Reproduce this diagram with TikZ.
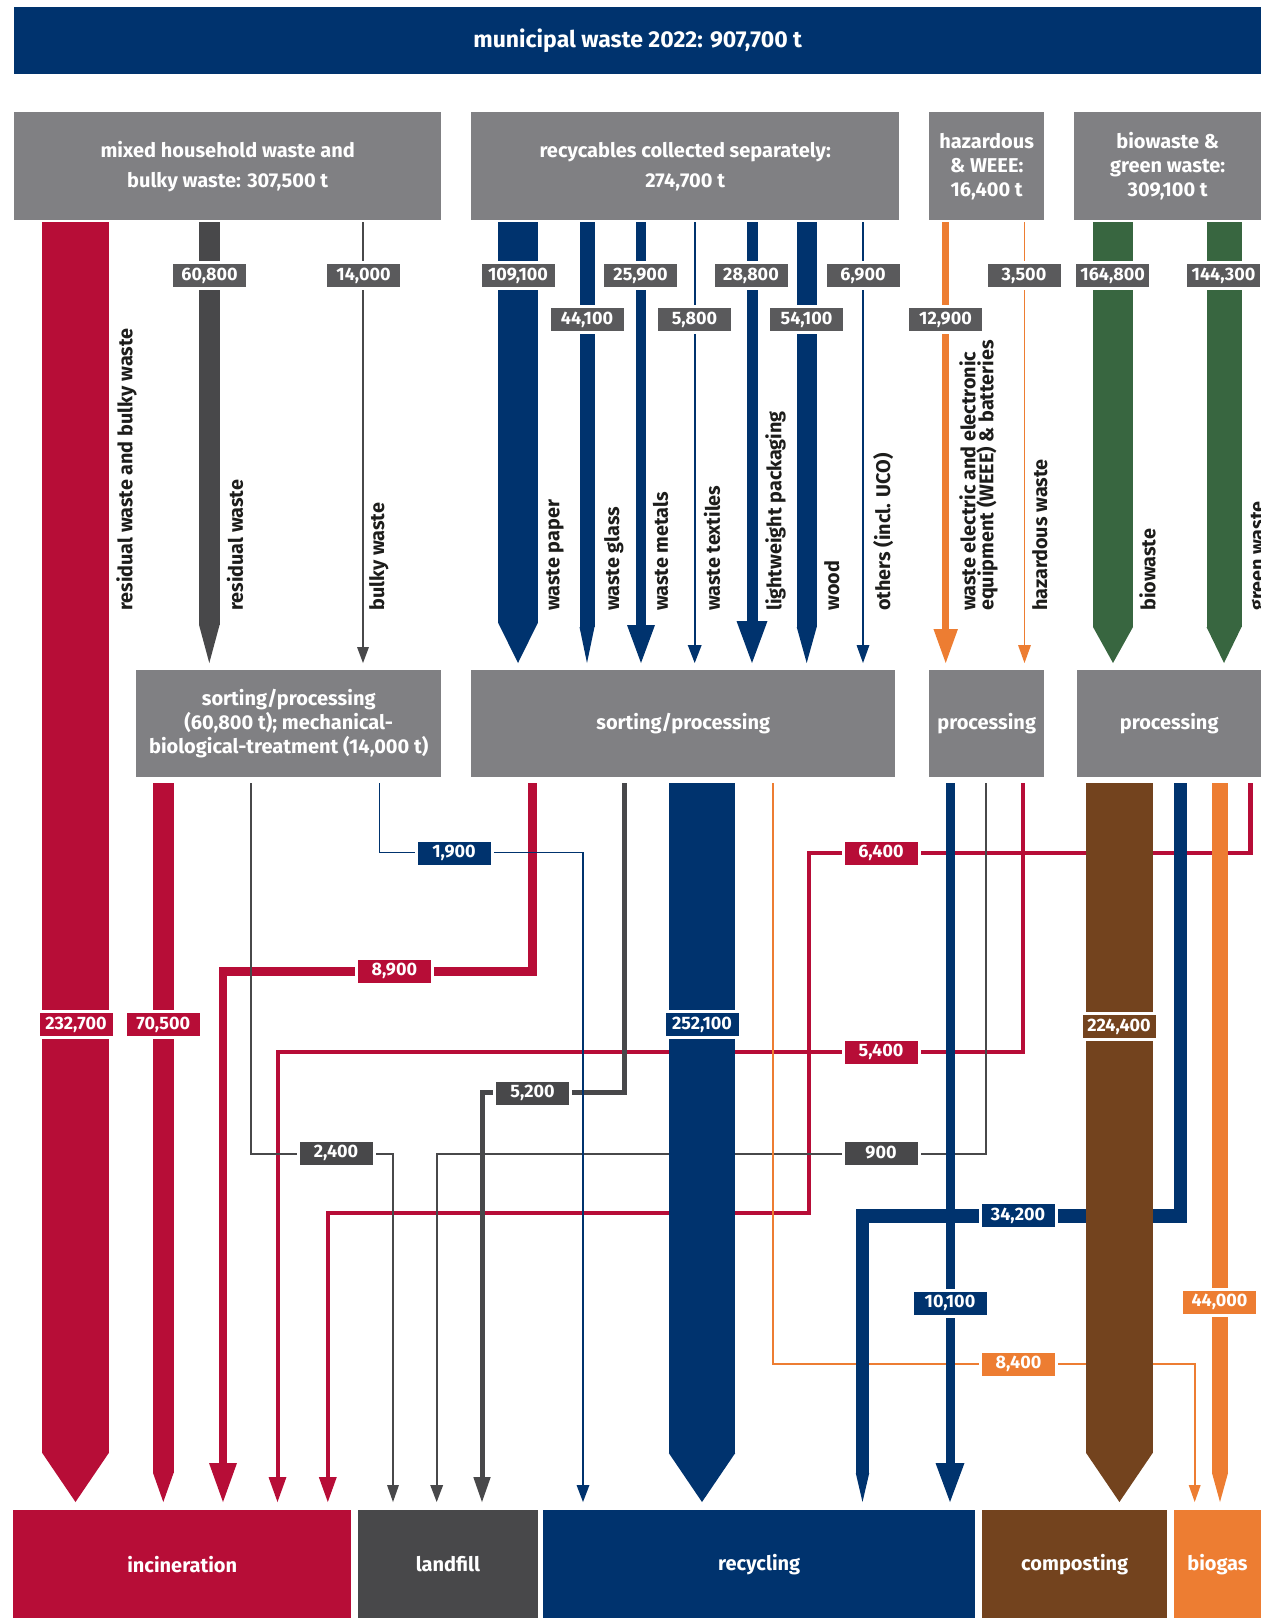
\documentclass[tikz,border=0pt]{standalone}
\usepackage{fontspec}
\setmainfont{Fira Sans}
\usetikzlibrary{arrows.meta}

\definecolor{navy}{RGB}{0,51,110}
\definecolor{wred}{RGB}{183,13,55}
\definecolor{boxgrey}{RGB}{128,128,131}
\definecolor{dgrey}{RGB}{72,72,74}
\definecolor{lgrey}{RGB}{90,90,92}
\definecolor{worange}{RGB}{237,125,50}
\definecolor{wgreen}{RGB}{56,102,64}
\definecolor{wbrown}{RGB}{115,67,30}
\definecolor{txt}{RGB}{29,29,27}

\newcommand{\boxfont}{\bfseries\fontsize{20}{24}\selectfont}
\newcommand{\lblfont}{\bfseries\fontsize{18}{20}\selectfont}
\newcommand{\vertfont}{\bfseries\fontsize{19.8}{18}\selectfont}

\tikzset{
  box/.style={fill=#1, text=white, font=\boxfont, align=center, inner sep=0pt, anchor=north west},
  box/.default=boxgrey,
  lbl/.style={fill=#1, text=white, font=\lblfont, minimum width=73pt, minimum height=23pt,
    inner sep=0pt, preaction={draw=white, line width=6pt}},
  lbl/.default=lgrey,
  vlbl/.style={rotate=90, anchor=north west, font=\vertfont, text=txt, inner sep=0pt, align=left},
  flow/.style n args={4}{draw=#1, line width=#2pt, -{Triangle[length=#3pt, width=#4pt, line width=0pt]}},
}

\begin{document}
\begin{tikzpicture}[x=1pt, y=-1pt]
    \useasboundingbox (0,0) rectangle (1261,1618);
    \clip (0,0) rectangle (1261,1618);

    % header and collection boxes
    \node[box=navy, minimum width=1247pt, minimum height=67pt, font=\bfseries\fontsize{23}{26}\selectfont] (total) at (14,7) {municipal waste 2022: 907,700 t};
    \node[box, minimum width=427pt, minimum height=108pt, font=\bfseries\fontsize{20}{30}\selectfont] (mixed) at (14,112) {mixed household waste and\\bulky waste: 307,500 t};
    \node[box, minimum width=428pt, minimum height=108pt, font=\bfseries\fontsize{20}{30}\selectfont] (recyc) at (471,112) {recycables collected separately:\\274,700 t};
    \node[box, minimum width=115pt, minimum height=108pt] (hazard) at (929,112) {hazardous\\\& WEEE:\\16,400 t};
    \node[box, minimum width=187pt, minimum height=108pt] (bio) at (1074,112) {biowaste \&\\green waste:\\309,100 t};

    % treatment boxes
    \node[box, minimum width=305pt, minimum height=107pt] (sortmix) at (136,670) {sorting/processing\\(60,800 t); mechanical-\\biological-treatment (14,000 t)};
    \node[box, minimum width=424pt, minimum height=107pt] (sortrec) at (471,670) {sorting/processing};
    \node[box, minimum width=115pt, minimum height=107pt] (prochaz) at (929,670) {processing};
    \node[box, minimum width=184pt, minimum height=107pt] (procbio) at (1077,670) {processing};

    % destination boxes
    \node[box=wred, minimum width=338pt, minimum height=108pt] (incin) at (13,1510) {incineration};
    \node[box=dgrey, minimum width=180.5pt, minimum height=108pt] (landfill) at (357.5,1510) {landfill};
    \node[box=navy, minimum width=432pt, minimum height=108pt] (recycling) at (543,1510) {recycling};
    \node[box=wbrown, minimum width=185pt, minimum height=108pt] (compost) at (982,1510) {composting};
    \node[box=worange, minimum width=87.5pt, minimum height=108pt] (biogas) at (1173.5,1510) {biogas};

    % rows where the flows leave and enter
    \coordinate (mixed-out) at ([yshift=-2pt]mixed.south);
    \coordinate (recyc-out) at ([yshift=-2pt]recyc.south);
    \coordinate (hazard-out) at ([yshift=-2pt]hazard.south);
    \coordinate (bio-out) at ([yshift=-2pt]bio.south);
    \coordinate (sortmix-in) at ([yshift=7pt]sortmix.north);
    \coordinate (sortrec-in) at ([yshift=7pt]sortrec.north);
    \coordinate (prochaz-in) at ([yshift=7pt]prochaz.north);
    \coordinate (procbio-in) at ([yshift=7pt]procbio.north);
    \coordinate (sortmix-out) at ([yshift=-6pt]sortmix.south);
    \coordinate (sortrec-out) at ([yshift=-6pt]sortrec.south);
    \coordinate (prochaz-out) at ([yshift=-6pt]prochaz.south);
    \coordinate (procbio-out) at ([yshift=-6pt]procbio.south);
    \coordinate (incin-in) at ([yshift=8pt]incin.north);
    \coordinate (landfill-in) at ([yshift=8pt]landfill.north);
    \coordinate (recycling-in) at ([yshift=8pt]recycling.north);
    \coordinate (compost-in) at ([yshift=8pt]compost.north);
    \coordinate (biogas-in) at ([yshift=8pt]biogas.north);

    % crossing flows below the treatment boxes
    \draw[flow={wred}{4.5}{25}{18}] (1250.6,0 |- procbio-out) |- (809,853) |- (327.8,1213) -- (327.8,0 |- incin-in);
    \draw[flow={wred}{4}{25}{18}] (1023,0 |- prochaz-out) |- (277.5,1052) -- (277.5,0 |- incin-in);
    \draw[flow={wred}{8.5}{39}{28}] (532.6,0 |- sortrec-out) |- (223,971.7) -- (223,0 |- incin-in);
    \draw[flow={dgrey}{2}{17}{12}] (251,0 |- sortmix-out) |- (393,1154) -- (393,0 |- landfill-in);
    \draw[flow={dgrey}{2}{17}{13}] (986,0 |- prochaz-out) |- (436.7,1154) -- (436.7,0 |- landfill-in);
    \draw[flow={dgrey}{5}{25}{17.5}] (624.5,0 |- sortrec-out) |- (482,1092.5) -- (482,0 |- landfill-in);
    \draw[flow={navy}{1.6}{17}{13}] (379.6,0 |- sortmix-out) |- (583,852.5) -- (583,0 |- recycling-in);
    \draw[flow={worange}{1.8}{17}{12}] (773,0 |- sortrec-out) |- (1194.7,1364) -- (1194.7,0 |- biogas-in);
    \draw[flow={navy}{13.5}{29}{13.5}] (1180.5,0 |- procbio-out) |- (862.5,1216) -- (862.5,0 |- recycling-in);
    \draw[flow={navy}{9}{39}{29}] (950,0 |- prochaz-out) -- (950,0 |- recycling-in);

    % straight flows below the treatment boxes
    \draw[flow={wred}{20.5}{29}{20.5}] (163.3,0 |- sortmix-out) -- (163.3,0 |- incin-in);
    \draw[flow={navy}{66.5}{49}{66.5}] (702,0 |- sortrec-out) -- (702,0 |- recycling-in);
    \draw[flow={wbrown}{66.5}{49}{66.5}] (1119.4,0 |- procbio-out) -- (1119.4,0 |- compost-in);
    \draw[flow={worange}{16}{29}{16}] (1220,0 |- procbio-out) -- (1220,0 |- biogas-in);

    % flows from the collection boxes
    \draw[flow={wred}{66.5}{49}{66.5}] (75.5,0 |- mixed-out) -- (75.5,0 |- incin-in);
    \draw[flow={dgrey}{20.5}{38}{20.5}] (209.3,0 |- mixed-out) -- (209.3,0 |- sortmix-in);
    \draw[flow={dgrey}{1.6}{16}{12}] (363,0 |- mixed-out) -- (363,0 |- sortmix-in);
    \draw[flow={navy}{39.5}{40}{39.5}] (518,0 |- recyc-out) -- (518,0 |- sortrec-in);
    \draw[flow={navy}{15}{36}{15}] (587,0 |- recyc-out) -- (587,0 |- sortrec-in);
    \draw[flow={navy}{10}{38}{28}] (641,0 |- recyc-out) -- (641,0 |- sortrec-in);
    \draw[flow={navy}{1.6}{18}{14}] (694.7,0 |- recyc-out) -- (694.7,0 |- sortrec-in);
    \draw[flow={navy}{11}{42}{31}] (752,0 |- recyc-out) -- (752,0 |- sortrec-in);
    \draw[flow={navy}{20}{36}{20}] (806.7,0 |- recyc-out) -- (806.7,0 |- sortrec-in);
    \draw[flow={navy}{1.6}{18}{13}] (863,0 |- recyc-out) -- (863,0 |- sortrec-in);
    \draw[flow={worange}{7}{34}{24.5}] (945.7,0 |- hazard-out) -- (945.7,0 |- prochaz-in);
    \draw[flow={worange}{1.6}{18}{13}] (1024.5,0 |- hazard-out) -- (1024.5,0 |- prochaz-in);
    \draw[flow={wgreen}{40}{36}{40}] (1113,0 |- bio-out) -- (1113,0 |- procbio-in);
    \draw[flow={wgreen}{35}{36}{35}] (1224,0 |- bio-out) -- (1224,0 |- procbio-in);

    % amounts on the upper flows
    \node[lbl] (q60800) at (209.6,275.5) {60,800};
    \node[lbl] (q14000) at (363.5,275.5) {14,000};
    \node[lbl] (q109100) at (518,275.5) {109,100};
    \node[lbl] (q44100) at (587,319.5) {44,100};
    \node[lbl] (q25900) at (640.5,275.5) {25,900};
    \node[lbl] (q5800) at (694.5,319.5) {5,800};
    \node[lbl] (q28800) at (751,275.5) {28,800};
    \node[lbl] (q54100) at (806.5,319.5) {54,100};
    \node[lbl] (q6900) at (863,275.5) {6,900};
    \node[lbl] (q12900) at (945.5,319.5) {12,900};
    \node[lbl] (q3500) at (1024,275.5) {3,500};
    \node[lbl] (q164800) at (1112.7,275.5) {164,800};
    \node[lbl] (q144300) at (1223.5,275.5) {144,300};

    % amounts on the lower flows
    \node[lbl=wred] (q232700) at (76,1024.5) {232,700};
    \node[lbl=wred] (q70500) at (163.3,1024.5) {70,500};
    \node[lbl=navy] (q1900) at (454,853) {1,900};
    \node[lbl=wred] (q8900) at (394.3,971) {8,900};
    \node[lbl=dgrey] (q2400) at (336,1153) {2,400};
    \node[lbl=dgrey] (q5200) at (532.6,1093) {5,200};
    \node[lbl=navy] (q252100) at (702,1024.5) {252,100};
    \node[lbl=wred] (q6400) at (881,853) {6,400};
    \node[lbl=wred] (q5400) at (881,1052) {5,400};
    \node[lbl=dgrey] (q900) at (881,1153) {900};
    \node[lbl=navy] (q34200) at (1018,1215.5) {34,200};
    \node[lbl=wbrown] (q224400) at (1119,1026.5) {224,400};
    \node[lbl=navy] (q10100) at (950,1303) {10,100};
    \node[lbl=worange] (q44000) at (1219.5,1302) {44,000};
    \node[lbl=worange] (q8400) at (1018.5,1364) {8,400};

    % names of the fractions
    \node[vlbl] (t-resbulk) at (116,611) {residual waste and bulky waste};
    \node[vlbl] (t-residual) at (226.5,611) {residual waste};
    \node[vlbl] (t-bulky) at (369,611) {bulky waste};
    \node[vlbl] (t-paper) at (546,611) {waste paper};
    \node[vlbl] (t-glass) at (604,611) {waste glass};
    \node[vlbl] (t-metals) at (652.6,611) {waste metals};
    \node[vlbl] (t-textiles) at (703.7,611) {waste textiles};
    \node[vlbl] (t-lwp) at (765,611) {lightweight packaging};
    \node[vlbl] (t-wood) at (824,611) {wood};
    \node[vlbl] (t-others) at (873,611) {others (incl. UCO)};
    \node[vlbl] (t-weee) at (959,611) {waste electric and electronic\\equipment (WEEE) \& batteries};
    \node[vlbl] (t-hazard) at (1032,611) {hazardous waste};
    \node[vlbl] (t-bio) at (1139,611) {biowaste};
    \node[vlbl] (t-green) at (1250.6,611) {green waste};
\end{tikzpicture}
\end{document}
